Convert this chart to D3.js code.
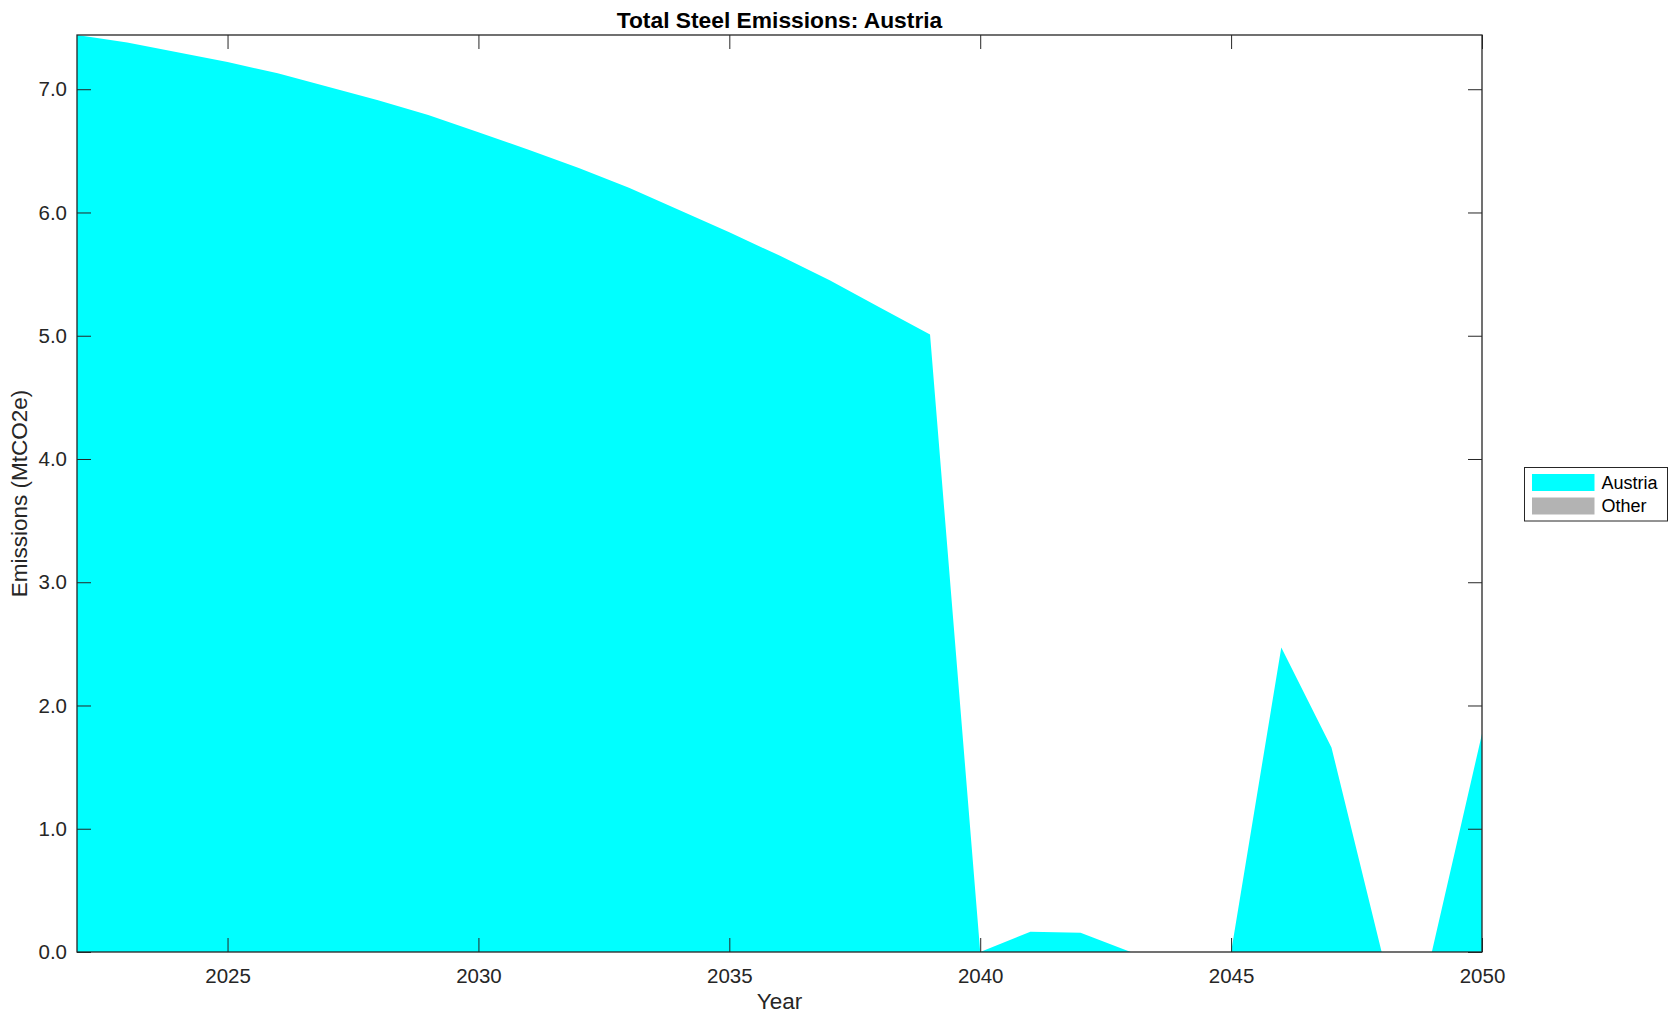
<!DOCTYPE html>
<html>
<head>
<meta charset="utf-8">
<script src="https://cdn.jsdelivr.net/npm/d3@7"></script>
<style>
  html, body { margin: 0; padding: 0; background: #ffffff; }
  svg { display: block; }
  text { font-family: "Liberation Sans", Arial, Helvetica, sans-serif; }
</style>
</head>
<body>
<svg id="chart" width="1678" height="1021"></svg>
<script>
// ---- data ----
const years = [2022, 2023, 2024, 2025, 2026, 2027, 2028, 2029, 2030, 2031,
               2032, 2033, 2034, 2035, 2036, 2037, 2038, 2039, 2040, 2041,
               2042, 2043, 2044, 2045, 2046, 2047, 2048, 2049, 2050];
const austria = [7.44, 7.38, 7.30, 7.22, 7.13, 7.02, 6.91, 6.79, 6.65, 6.51,
                 6.36, 6.20, 6.02, 5.84, 5.65, 5.45, 5.23, 5.01, 0.00, 0.165,
                 0.157, 0.00, 0.00, 0.00, 2.47, 1.66, 0.00, 0.00, 1.77];
const other = [0, 0, 0, 0, 0, 0, 0, 0, 0, 0,
               0, 0, 0, 0, 0, 0, 0, 0, 0, 0,
               0, 0, 0, 0, 0, 0, 0, 0, 0];
const seriesNames = ["Austria", "Other"];
const seriesColors = ["#00ffff", "#b3b3b3"];
const xTicks = [2025, 2030, 2035, 2040, 2045, 2050];
const yTicks = [0, 1, 2, 3, 4, 5, 6, 7];
const titleText = "Total Steel Emissions: Austria";
const xLabel = "Year";
const yLabel = "Emissions (MtCO2e)";

// ---- layout ----
(function () {
const svg = d3.select("#chart");
const pL = 77, pR = 1482, pT = 35, pB = 952;
const axisColor = "#262626";

const table = years.map((yr, i) => ({ year: yr, Austria: austria[i], Other: other[i] }));
const stacked = d3.stack().keys(seriesNames)(table);

const x = d3.scaleLinear().domain(d3.extent(years)).range([pL, pR]);
const yMax = d3.max(stacked[stacked.length - 1], d => d[1]);
const y = d3.scaleLinear().domain([0, yMax]).range([pB, pT]);

// areas
const area = d3.area()
  .x(d => x(d.data.year))
  .y0(d => y(d[0]))
  .y1(d => y(d[1]));

svg.append("g").selectAll("path")
  .data(stacked)
  .join("path")
  .attr("d", area)
  .attr("fill", (d, i) => seriesColors[i])
  .attr("stroke", "none");

// axes
const fmt = d3.format(".1f");
const tickLen = 14;

const gx = svg.append("g").attr("transform", `translate(0,${pB})`)
  .call(d3.axisBottom(x).tickValues(xTicks).tickFormat(d3.format("d"))
    .tickSizeInner(-tickLen).tickSizeOuter(0).tickPadding(16));
const gxt = svg.append("g").attr("transform", `translate(0,${pT})`)
  .call(d3.axisTop(x).tickValues(xTicks).tickFormat("")
    .tickSizeInner(-tickLen).tickSizeOuter(0));
const gy = svg.append("g").attr("transform", `translate(${pL},0)`)
  .call(d3.axisLeft(y).tickValues(yTicks).tickFormat(fmt)
    .tickSizeInner(-tickLen).tickSizeOuter(0).tickPadding(10));
const gyr = svg.append("g").attr("transform", `translate(${pR},0)`)
  .call(d3.axisRight(y).tickValues(yTicks).tickFormat("")
    .tickSizeInner(-tickLen).tickSizeOuter(0));

[gx, gxt, gy, gyr].forEach(g => {
  g.select(".domain").remove();
  g.selectAll(".tick line").attr("stroke", axisColor).attr("stroke-width", 1);
  g.selectAll(".tick text")
    .attr("fill", axisColor)
    .style("font-size", "20.5px")
    .style("font-family", '"Liberation Sans", Arial, Helvetica, sans-serif');
});

// frame
svg.append("rect")
  .attr("x", pL).attr("y", pT)
  .attr("width", pR - pL).attr("height", pB - pT)
  .attr("fill", "none").attr("stroke", axisColor).attr("stroke-width", 1.3);

// title
svg.append("text")
  .attr("x", (pL + pR) / 2).attr("y", 27.5)
  .attr("text-anchor", "middle")
  .style("font-size", "22.8px").style("font-weight", "bold")
  .attr("fill", "#000")
  .text(titleText);

// axis labels
svg.append("text")
  .attr("x", (pL + pR) / 2).attr("y", 1009)
  .attr("text-anchor", "middle")
  .style("font-size", "22.5px")
  .attr("fill", axisColor)
  .text(xLabel);

svg.append("text")
  .attr("transform", `translate(27,${(pT + pB) / 2}) rotate(-90)`)
  .attr("text-anchor", "middle")
  .style("font-size", "22.5px")
  .attr("fill", axisColor)
  .text(yLabel);

// legend
const lg = svg.append("g");
lg.append("rect")
  .attr("x", 1524.5).attr("y", 467.5)
  .attr("width", 143).attr("height", 53.5)
  .attr("fill", "#fff").attr("stroke", axisColor).attr("stroke-width", 1);

const items = lg.selectAll("g.item")
  .data(seriesNames)
  .join("g")
  .attr("class", "item")
  .attr("transform", (d, i) => `translate(1532,${474 + i * 23.5})`);
items.append("rect")
  .attr("width", 62.5).attr("height", 17)
  .attr("fill", (d, i) => seriesColors[i]);
items.append("text")
  .attr("x", 69.5).attr("y", 8.5)
  .attr("dy", "0.35em")
  .style("font-size", "18px")
  .attr("fill", "#000")
  .text(d => d);
})();
</script>
</body>
</html>
